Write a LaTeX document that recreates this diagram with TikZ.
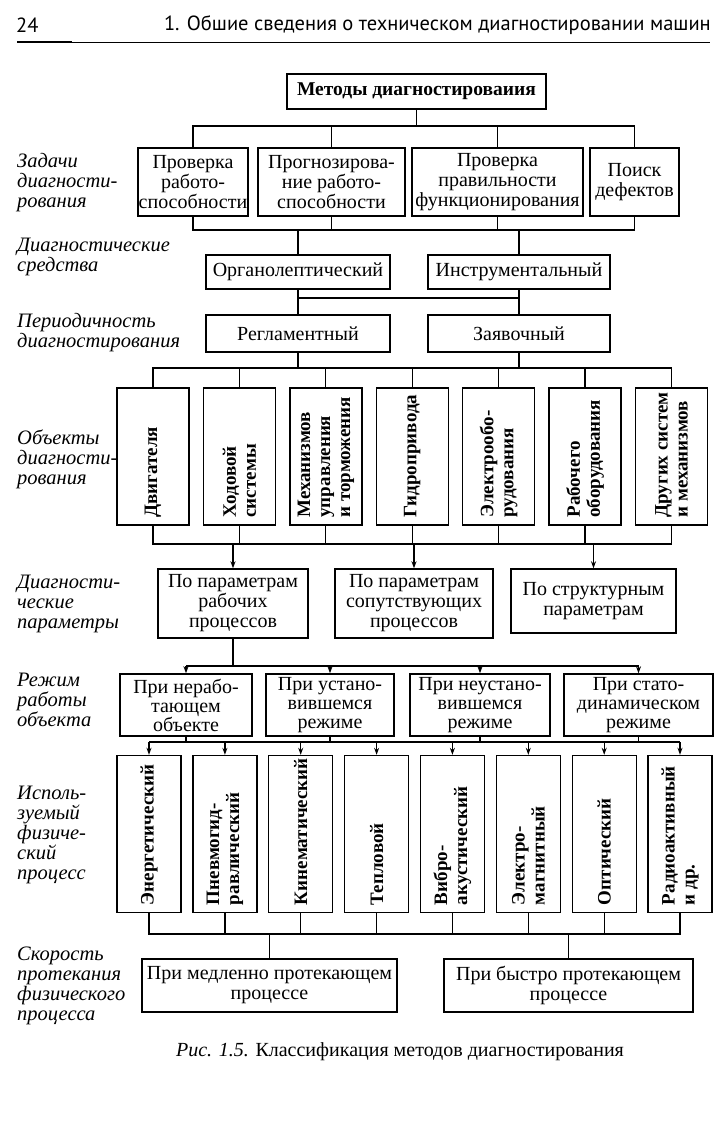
\documentclass[tikz,border=0pt]{standalone}
\usepackage{fontspec}
\setmainfont{Liberation Serif}
\newfontfamily\kolontitul{PT Sans}
\usepackage{tikz}
\usetikzlibrary{arrows.meta}
\tikzstyle{blok} = [rectangle,draw=black,line width=1.4pt,inner sep=0pt,text centered,align=center,font=\fontsize{20}{20}\selectfont]
\tikzstyle{vblok} = [rectangle,draw=black,line width=1.4pt,minimum width=72pt,minimum height=137pt]
\tikzstyle{pblok} = [rectangle,draw=black,line width=1.4pt,minimum width=64pt,minimum height=157pt]
\tikzstyle{vtekst} = [rotate=90,anchor=west,align=left,inner sep=0pt,font=\bfseries\fontsize{19}{20}\selectfont]
\tikzstyle{podpis} = [anchor=west,align=left,inner sep=0pt,font=\itshape\fontsize{20.5}{20}\selectfont]
\tikzstyle{liniya} = [line width=1.2pt]
\tikzstyle{strelka} = [line width=1.2pt,->,>={Stealth[length=7pt,width=5pt]}]
\begin{document}
\begin{tikzpicture}[x=1pt,y=-1pt]
\useasboundingbox (0,0) rectangle (727,1121);

% page head
\node (stranica) [anchor=west,inner sep=0pt,font=\kolontitul\fontsize{20.5}{22}\selectfont] at (16,25) {24};
\node (glava) [anchor=east,inner sep=0pt,font=\kolontitul\fontsize{20.5}{22}\selectfont] at (711,25) {1. Обшие сведения о техническом диагностировании машин};
\draw[line width=0.8pt] (17,42) -- (710,42);
\draw[line width=2.6pt] (17,42) -- (72,42);

% bus levels
\coordinate (shina1) at (0,126);
\coordinate (shina2) at (0,230);
\coordinate (shina3) at (0,298);
\coordinate (shina4) at (0,368);
\coordinate (shina5) at (0,544);
\coordinate (shina6) at (0,666);
\coordinate (shina7) at (0,742);
\coordinate (shina8) at (0,934);

\node (metody) [blok,font=\bfseries\fontsize{19.5}{20}\selectfont,minimum width=259pt,minimum height=35pt] at (416.5,91.5) {Методы диагностироваиия};

% left column
\node (lzad) [podpis] at (17,183) {Задачи\\диагности-\\рования};
\node (lsr)  [podpis] at (17,257) {Диагностические\\средства};
\node (lper) [podpis] at (17,333) {Периодичность\\диагностирования};
\node (lob)  [podpis] at (17,459) {Объекты\\диагности-\\рования};
\node (lpar) [podpis] at (17,604) {Диагности-\\ческие\\параметры};
\node (lrez) [podpis] at (17,700) {Режим\\работы\\объекта};
\node (lpr)  [podpis] at (17,835) {Исполь-\\зуемый\\физиче-\\ский\\процесс};
\node (lsk)  [podpis] at (17,986) {Скорость\\протекания\\физического\\процесса};

% tasks
\node (zad1) [blok,minimum width=110pt,minimum height=68pt] at (193,182) {Проверка\\работо-\\способности};
\node (zad2) [blok,minimum width=147pt,minimum height=68pt] at (331.5,182) {Прогнозирова-\\ние работо-\\способности};
\node (zad3) [blok,minimum width=171pt,minimum height=68pt] at (497.5,182) {Проверка\\правильности\\функционирования};
\node (zad4) [blok,minimum width=89pt,minimum height=68pt] at (634.5,182) {Поиск\\дефектов};

% means
\node (sr1) [blok,minimum width=184pt,minimum height=34pt] at (298,272) {Органолептический};
\node (sr2) [blok,minimum width=182pt,minimum height=34pt] at (519,272) {Инструментальный};

% periodicity
\node (per1) [blok,minimum width=184pt,minimum height=37pt] at (298,333.5) {Регламентный};
\node (per2) [blok,minimum width=182pt,minimum height=37pt] at (519,333.5) {Заявочный};

% objects
\node (ob1) [vblok] at (153,456.5) {};
\node (ob2) [vblok] at (239.4,456.5) {};
\node (ob3) [vblok] at (325.8,456.5) {};
\node (ob4) [vblok] at (412.2,456.5) {};
\node (ob5) [vblok] at (498.6,456.5) {};
\node (ob6) [vblok] at (585,456.5) {};
\node (ob7) [vblok] at (671.4,456.5) {};
\node (ob1t) [vtekst] at ([yshift=8pt]ob1.south) {Двигателя};
\node (ob2t) [vtekst] at ([yshift=8pt]ob2.south) {Ходовой\\системы};
\node (ob3t) [vtekst] at ([yshift=8pt]ob3.south) {Механизмов\\управления\\и торможения};
\node (ob4t) [vtekst] at ([yshift=8pt]ob4.south) {Гидропривода};
\node (ob5t) [vtekst] at ([yshift=8pt]ob5.south) {Электрообо-\\рудования};
\node (ob6t) [vtekst] at ([yshift=8pt]ob6.south) {Рабочего\\оборудования};
\node (ob7t) [vtekst] at ([yshift=8pt]ob7.south) {Других систем\\и механизмов};

% parameters
\node (par1) [blok,minimum width=150pt,minimum height=69pt] at (233,603.5) {По параметрам\\рабочих\\процессов};
\node (par2) [blok,minimum width=158pt,minimum height=69pt] at (414,603.5) {По параметрам\\сопутствующих\\процессов};
\node (par3) [blok,minimum width=165pt,minimum height=64pt] at (593.5,601) {По структурным\\параметрам};

% operating modes
\node (rez1) [blok,font=\fontsize{20}{19}\selectfont,minimum width=132pt,minimum height=62pt] at (186,705) {При нерабо-\\тающем\\объекте};
\node (rez2) [blok,font=\fontsize{20}{19}\selectfont,minimum width=128pt,minimum height=62pt] at (330,705) {При устано-\\вившемся\\режиме};
\node (rez3) [blok,font=\fontsize{20}{19}\selectfont,minimum width=140pt,minimum height=62pt] at (480,705) {При неустано-\\вившемся\\режиме};
\node (rez4) [blok,font=\fontsize{20}{19}\selectfont,minimum width=149pt,minimum height=62pt] at (638.5,705) {При стато-\\динамическом\\режиме};

% physical processes
\node (pr1) [pblok] at (149,834) {};
\node (pr2) [pblok] at (224.9,834) {};
\node (pr3) [pblok] at (300.7,834) {};
\node (pr4) [pblok] at (376.6,834) {};
\node (pr5) [pblok] at (452.4,834) {};
\node (pr6) [pblok] at (528.3,834) {};
\node (pr7) [pblok] at (604.2,834) {};
\node (pr8) [pblok] at (680,834) {};
\node (pr1t) [vtekst] at ([yshift=8pt]pr1.south) {Энергетический};
\node (pr2t) [vtekst] at ([yshift=8pt]pr2.south) {Пневмогид-\\равлический};
\node (pr3t) [vtekst] at ([yshift=8pt]pr3.south) {Кинематический};
\node (pr4t) [vtekst] at ([yshift=8pt]pr4.south) {Тепловой};
\node (pr5t) [vtekst] at ([yshift=8pt]pr5.south) {Вибро-\\акустический};
\node (pr6t) [vtekst] at ([yshift=8pt]pr6.south) {Электро-\\магнитный};
\node (pr7t) [vtekst] at ([yshift=8pt]pr7.south) {Оптический};
\node (pr8t) [vtekst] at ([yshift=8pt]pr8.south) {Радиоактивный\\и др.};

% speed
\node (sk1) [blok,minimum width=255pt,minimum height=53pt] at (269.5,985.5) {При медленно протекающем\\процессе};
\node (sk2) [blok,minimum width=249pt,minimum height=53pt] at (568.5,985.5) {При быстро протекающем\\процессе};

\node (ris) [font=\fontsize{20}{22}\selectfont] at (400,1052) {\textit{Рис. 1.5.} Классификация методов диагностирования};

% methods -> tasks
\draw[liniya] (metody.south) -- (metody.south |- shina1);
\draw[liniya] (zad1.north) |- (shina1 -| zad4.north) -- (zad4.north);
\draw[liniya] (zad2.north) -- (zad2.north |- shina1);
\draw[liniya] (zad3.north) -- (zad3.north |- shina1);

% tasks -> means
\draw[liniya] (zad1.south) |- (shina2 -| zad4.south) -- (zad4.south);
\draw[liniya] (zad2.south) -- (zad2.south |- shina2);
\draw[liniya] (zad3.south) -- (zad3.south |- shina2);
\draw[liniya] (sr1.north) -- (sr1.north |- shina2);
\draw[liniya] (sr2.north) -- (sr2.north |- shina2);

% means -> periodicity
\draw[liniya] (sr1.south) -- (per1.north);
\draw[liniya] (sr2.south) -- (per2.north);
\draw[liniya] (sr1.south |- shina3) -- (sr2.south |- shina3);

% periodicity -> objects
\draw[liniya] (per1.south) -- (per1.south |- shina4);
\draw[liniya] (per2.south) -- (per2.south |- shina4);
\draw[liniya] (ob1.north) |- (shina4 -| ob7.north) -- (ob7.north);
\draw[liniya] (ob2.north) -- (ob2.north |- shina4);
\draw[liniya] (ob3.north) -- (ob3.north |- shina4);
\draw[liniya] (ob4.north) -- (ob4.north |- shina4);
\draw[liniya] (ob5.north) -- (ob5.north |- shina4);
\draw[liniya] (ob6.north) -- (ob6.north |- shina4);

% objects -> parameters
\draw[liniya] (ob1.south) |- (shina5 -| ob7.south) -- (ob7.south);
\draw[liniya] (ob2.south) -- (ob2.south |- shina5);
\draw[liniya] (ob3.south) -- (ob3.south |- shina5);
\draw[liniya] (ob4.south) -- (ob4.south |- shina5);
\draw[liniya] (ob5.south) -- (ob5.south |- shina5);
\draw[liniya] (ob6.south) -- (ob6.south |- shina5);
\draw[strelka] (par1.north |- shina5) -- (par1.north);
\draw[strelka] (par2.north |- shina5) -- (par2.north);
\draw[strelka] (par3.north |- shina5) -- (par3.north);

% parameters -> modes
\draw[liniya] (par1.south) -- (par1.south |- shina6);
\draw[liniya] (rez1.north |- shina6) -- (rez4.north |- shina6);
\draw[strelka] (rez1.north |- shina6) -- (rez1.north);
\draw[strelka] (rez2.north |- shina6) -- (rez2.north);
\draw[strelka] (rez3.north |- shina6) -- (rez3.north);
\draw[strelka] (rez4.north |- shina6) -- (rez4.north);

% modes -> processes
\draw[liniya] (rez1.south) -- (rez1.south |- shina7);
\draw[liniya] (rez2.south) -- (rez2.south |- shina7);
\draw[liniya] (rez3.south) -- (rez3.south |- shina7);
\draw[liniya] (rez4.south) -- (rez4.south |- shina7);
\draw[liniya] (pr1.north |- shina7) -- (pr8.north |- shina7);
\draw[strelka] (pr1.north |- shina7) -- (pr1.north);
\draw[strelka] (pr2.north |- shina7) -- (pr2.north);
\draw[strelka] (pr3.north |- shina7) -- (pr3.north);
\draw[strelka] (pr4.north |- shina7) -- (pr4.north);
\draw[strelka] (pr5.north |- shina7) -- (pr5.north);
\draw[strelka] (pr6.north |- shina7) -- (pr6.north);
\draw[strelka] (pr7.north |- shina7) -- (pr7.north);
\draw[strelka] (pr8.north |- shina7) -- (pr8.north);

% processes -> speed
\draw[liniya] (pr1.south) |- (shina8 -| pr8.south) -- (pr8.south);
\draw[liniya] (pr2.south) -- (pr2.south |- shina8);
\draw[liniya] (pr3.south) -- (pr3.south |- shina8);
\draw[liniya] (pr4.south) -- (pr4.south |- shina8);
\draw[liniya] (pr5.south) -- (pr5.south |- shina8);
\draw[liniya] (pr6.south) -- (pr6.south |- shina8);
\draw[liniya] (pr7.south) -- (pr7.south |- shina8);
\draw[liniya] (sk1.north) -- (sk1.north |- shina8);
\draw[liniya] (sk2.north) -- (sk2.north |- shina8);
\end{tikzpicture}
\end{document}
